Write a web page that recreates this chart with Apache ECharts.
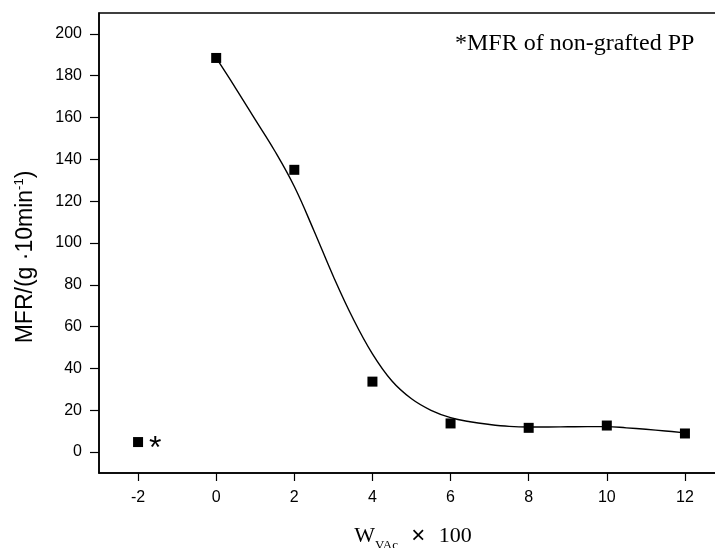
<!DOCTYPE html>
<html><head><meta charset="utf-8">
<script src="https://cdn.jsdelivr.net/npm/echarts@6/dist/echarts.min.js"></script>
<style>html,body{margin:0;padding:0;background:#fff}#c{width:715px;height:548px}</style>
</head><body><div id="c"></div>
<script>
// measured points
const xPoints = [-2, 0, 2, 4, 6, 8, 10, 12];
const mfrPoints = [4.8, 188.5, 135, 33.7, 13.7, 11.6, 12.7, 8.9];
// fitted curve
const curveX = [0,0.5,1,1.5,2,2.5,3,3.5,4,4.5,5,5.5,6,6.5,7,7.5,8,8.5,9,9.5,10,10.5,11,11.5,12];
const curveY = [188.5,174,159,144,127,106,84,64,47,34,25.5,20,16.5,14.5,13.2,12.3,12,12,12.1,12.2,12.2,11.6,10.9,10.1,9.2];
const xTicks = [-2,0,2,4,6,8,10,12];
const yTicks = [0,20,40,60,80,100,120,140,160,180,200];

const chart = echarts.init(document.getElementById('c'), null, {renderer:'canvas'});
const sans = 'Liberation Sans, Arial, sans-serif';
const serif = 'Liberation Serif, Times New Roman, serif';
chart.setOption({
  animation: false,
  backgroundColor: '#fff',
  grid: {left: 99, top: 13, right: -9, bottom: 75, containLabel: false, outerBoundsMode: 'none',
         show: true, borderColor: '#000', borderWidth: 1.5, backgroundColor: 'transparent'},
  xAxis: {
    type: 'value', min: -3, max: 13,
    axisLine: {show: true, onZero: false, lineStyle: {color: '#000', width: 1.5}},
    axisTick: {show: true, inside: false, length: 8, customValues: xTicks, lineStyle: {color: '#000', width: 1.2}},
    axisLabel: {customValues: xTicks, color: '#000', fontFamily: sans, fontSize: 16, margin: 17},
    splitLine: {show: false}
  },
  yAxis: {
    type: 'value', min: -10, max: 210,
    axisLine: {show: true, onZero: false, lineStyle: {color: '#000', width: 1.5}},
    axisTick: {show: true, inside: false, length: 9, customValues: yTicks, lineStyle: {color: '#000', width: 1.2}},
    axisLabel: {customValues: yTicks, color: '#000', fontFamily: sans, fontSize: 16, margin: 17},
    splitLine: {show: false}
  },
  series: [
    {
      type: 'line', smooth: 0.4, showSymbol: false, symbol: 'none',
      data: curveX.map((x, i) => [x, curveY[i]]),
      lineStyle: {color: '#000', width: 1.4}, z: 2
    },
    {
      type: 'scatter', symbol: 'rect', symbolSize: 10,
      data: xPoints.map((x, i) => [x, mfrPoints[i]]),
      itemStyle: {color: '#000', opacity: 1}, z: 3
    }
  ],
  graphic: [
    {type: 'text', x: 26, y: 257, rotation: Math.PI / 2,
     style: {text: '{n|MFR/(g ·10min}{s|-1}{n|)}', align: 'center', verticalAlign: 'middle',
       rich: {
         n: {fontFamily: sans, fontSize: 23, fill: '#000'},
         s: {fontFamily: sans, fontSize: 13, fill: '#000', verticalAlign: 'top', padding: [0, 0, 14, 0]}
       }}},
    {type: 'text', x: 413, y: 536,
     style: {text: '{n|W}{s|VAc}{x|  ×  }{n|100}', align: 'center', verticalAlign: 'middle',
       rich: {
         n: {fontFamily: serif, fontSize: 22, fill: '#000'},
         x: {fontFamily: sans, fontSize: 24, fill: '#000'},
         s: {fontFamily: serif, fontSize: 13, fill: '#000', padding: [20, 0, 0, 0]}
       }}},
    {type: 'text', left: 455, top: 32, style: {text: '*MFR of non-grafted PP', font: '24px ' + serif, fill: '#000'}},
    {type: 'text', left: 149, top: 433, style: {text: '*', font: '32px ' + sans, fill: '#000'}}
  ]
});
</script></body></html>
